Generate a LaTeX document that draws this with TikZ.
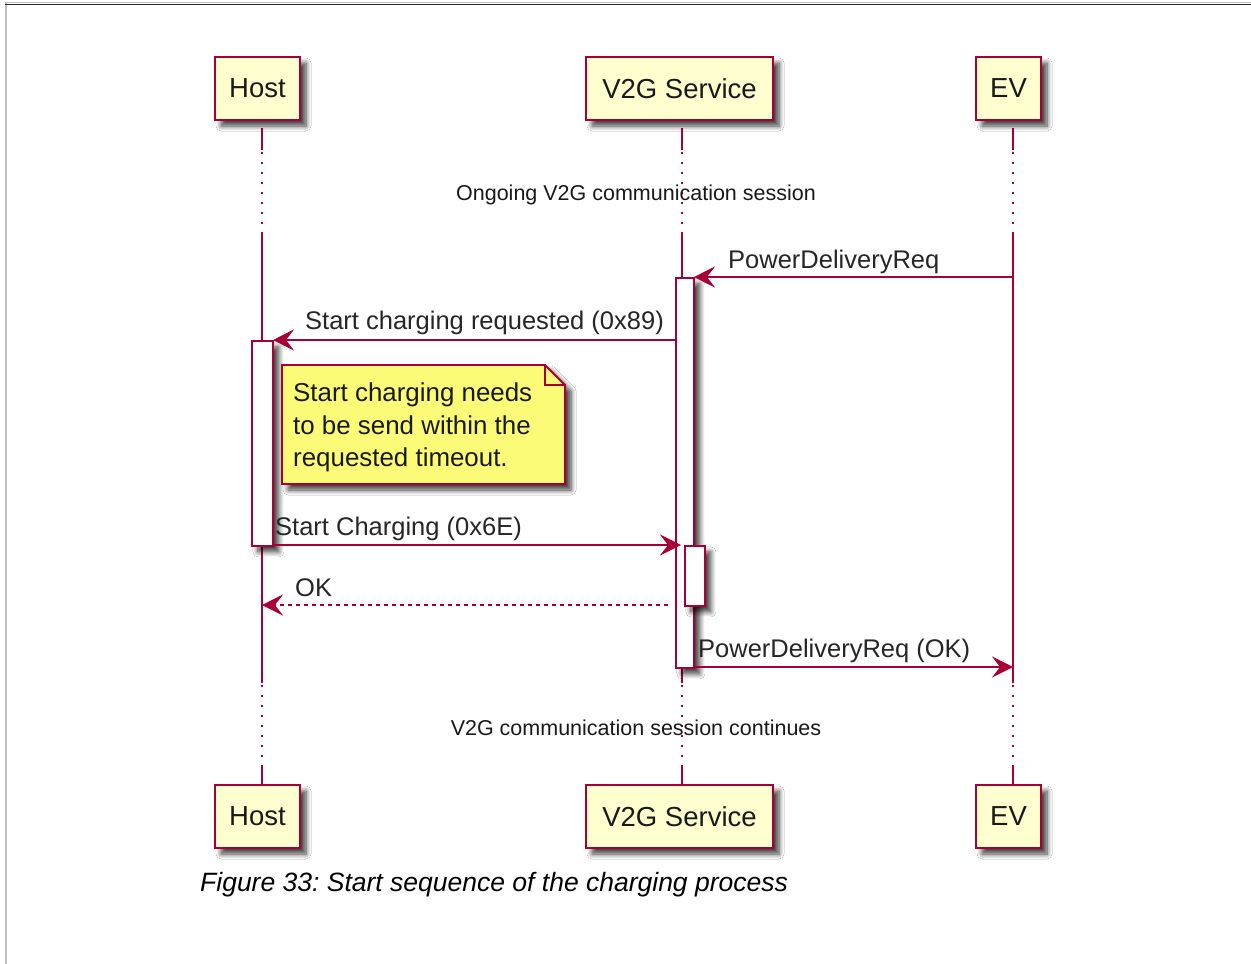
\documentclass[tikz,border=0pt]{standalone}
\usepackage{fontspec}
\setmainfont{Liberation Sans}
\usetikzlibrary{arrows.meta,shadows.blur}
\definecolor{pcrim}{HTML}{A80036}
\definecolor{pfill}{HTML}{FEFECE}
\definecolor{nfill}{HTML}{FBFB77}
\frenchspacing
\begin{document}
\begin{tikzpicture}[x=1pt,y=-1pt,
  shad/.style={blur shadow={shadow xshift=6pt,shadow yshift=-6pt,shadow blur steps=8,shadow opacity=75,shadow blur radius=5pt}},
  part/.style={draw=pcrim, fill=pfill, line width=2.8pt, shad, inner sep=0pt, minimum height=63pt, font=\fontsize{27.5}{33}\selectfont, text=black!90},
  act/.style={draw=pcrim, fill=white, line width=1.8pt, shad, inner sep=0pt, anchor=north west},
  life/.style={draw=pcrim, line width=1.8pt},
  lifedot/.style={draw=pcrim, line width=1.8pt, dash pattern=on 1.8pt off 8.2pt},
  msg/.style={draw=pcrim, line width=1.8pt, -{Stealth[length=21pt,width=21pt,inset=8pt]}},
  ret/.style={msg, dash pattern=on 4pt off 4pt},
  mlabel/.style={anchor=base west, inner sep=0pt, font=\fontsize{25.5}{30}\selectfont, text=black!85},
  divlabel/.style={anchor=base, inner sep=0pt, font=\fontsize{21.5}{26}\selectfont, text=black!90},
  notebox/.style={draw=pcrim, fill=nfill, line width=1.8pt, line join=miter},
  notetext/.style={anchor=north west, inner sep=0pt, align=left, font=\fontsize{25.9}{32.5}\selectfont, text=black!90},
]
\useasboundingbox (0,0) rectangle (1251,964);
\fill[white] (0,0) rectangle (1251,964);
% frame
\draw[black!25, line width=2.5pt] (6,964) -- (6,3);
\draw[black!85, line width=1.5pt] (5,4.5) -- (1251,4.5);
\draw[black!25, line width=1pt] (5,2.5) -- (1251,2.5);

% lifeline x positions
\coordinate (hx) at (262,0);
\coordinate (vx) at (682,0);
\coordinate (ex) at (1013,0);

% lifelines
\foreach \c in {hx,vx,ex}{
  \draw[life] (\c |- 0,128) -- (\c |- 0,150);
  \draw[lifedot] (\c |- 0,152) -- (\c |- 0,232);
  \draw[life] (\c |- 0,232) -- (\c |- 0,683);
  \draw[lifedot] (\c |- 0,685) -- (\c |- 0,767);
  \draw[life] (\c |- 0,767) -- (\c |- 0,785);
}

% participants
\node[part, minimum width=85pt] (hostT) at (257.5,88.5) {\raisebox{-1.5pt}{Host}};
\node[part, minimum width=187pt] (v2gT) at (679.5,88.5) {\raisebox{-1.5pt}{V2G Service}};
\node[part, minimum width=65pt] (evT) at (1008.5,88.5) {\raisebox{-1.5pt}{EV}};
\node[part, minimum width=85pt] (hostB) at (257.5,816.5) {\raisebox{-1.5pt}{Host}};
\node[part, minimum width=187pt] (v2gB) at (679.5,816.5) {\raisebox{-1.5pt}{V2G Service}};
\node[part, minimum width=65pt] (evB) at (1008.5,816.5) {\raisebox{-1.5pt}{EV}};

% dividers
\node[divlabel] (div1) at (636,200) {Ongoing V2G communication session};
\node[divlabel] (div2) at (636,735) {V2G communication session continues};

% activations
\node[act, minimum width=18pt, minimum height=390pt] (actV) at (675,277) {};
\node[act, minimum width=21pt, minimum height=205pt] (actH) at (251,340) {};

% note
\path[notebox, shad] (282,365) -- (545,365) -- (565,385) -- (565,484) -- (282,484) -- cycle;
\draw[notebox, fill=none] (545,365) -- (545,385) -- (565,385);
\node[notetext] (notet) at (293,383) {Start charging needs\\to be send within the\\requested timeout.};

% messages
\coordinate (m1s) at (ex |- 0,277);
\coordinate (m1e) at (694,277);
\draw[msg] (m1s) -- (m1e);
\node[mlabel] (l1) at (728,268) {PowerDeliveryReq};

\coordinate (m2s) at (675,340);
\coordinate (m2e) at (273,340);
\draw[msg] (m2s) -- (m2e);
\node[mlabel] (l2) at (305,329) {Start charging requested (0x89)};

\node[act, minimum width=20pt, minimum height=60pt] (actV2) at (684,545) {};
\coordinate (m3s) at (272,545);
\coordinate (m3e) at (681,545);
\draw[msg] (m3s) -- (m3e);
\node[mlabel] (l3) at (275,535) {Start Charging (0x6E)};

\coordinate (m4s) at (668,605);
\coordinate (m4e) at (hx |- 0,605);
\draw[ret] (m4s) -- (m4e);
\node[mlabel] (l4) at (295,596) {OK};

\coordinate (m5s) at (693,667);
\coordinate (m5e) at (ex |- 0,667);
\draw[msg] (m5s) -- (m5e);
\node[mlabel] (l5) at (698,657) {PowerDeliveryReq (OK)};

% caption
\node[anchor=base west, inner sep=0pt, font=\itshape\fontsize{26.5}{32}\selectfont] (cap) at (200,891) {Figure 33: Start sequence of the charging process};
\end{tikzpicture}
\end{document}
